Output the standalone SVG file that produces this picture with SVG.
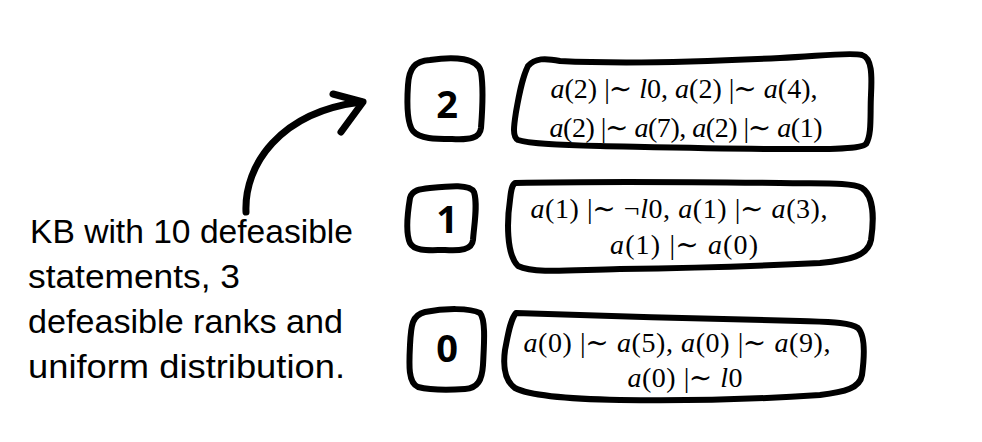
<svg xmlns="http://www.w3.org/2000/svg" width="982" height="442" viewBox="0 0 982 442">
<style>
.box{fill:none;stroke:#000;stroke-width:6;stroke-linejoin:round;stroke-linecap:round}
.num{font-family:"Open Sans","Liberation Sans",sans-serif;font-weight:700;font-size:38px;text-anchor:middle;fill:#000}
.math{font-family:"Liberation Serif","DejaVu Serif",serif;font-size:28px;text-anchor:middle;fill:#000}
.i{font-style:italic}
.note{font-family:"Liberation Sans","DejaVu Sans",sans-serif;font-size:33px;fill:#000}
.arrow{fill:none;stroke:#000;stroke-width:7;stroke-linecap:round;stroke-linejoin:round}
</style>
<rect width="982" height="442" fill="#fff"/>
<g id="rank2">
<path class="box" d="M 430 60 C 455 56, 478 58, 481 72 C 484 90, 482 115, 481 128 C 480 138, 470 140, 452 139 C 435 139, 420 139, 413 131 C 406 122, 407 100, 408 85 C 409 68, 415 61, 430 60 Z"/>
<text class="num" x="447" y="118">2</text>
</g>
<g id="stmts2">
<path class="box" d="M 528 66 C 535 58, 545 58, 560 61 C 620 64, 700 62, 780 58 C 820 56, 850 52, 862 55 C 872 58, 872 75, 871 95 C 870 115, 872 135, 866 144 C 860 150, 820 149, 790 149 C 720 149, 650 147, 600 146 C 560 145, 530 144, 518 140 C 512 137, 514 125, 516 112 C 519 95, 522 78, 528 66 Z"/>
<text class="math" x="684" y="98" textLength="267"><tspan class="i">a</tspan>(2) |<tspan dx="-1">∼</tspan> <tspan class="i">l</tspan>0, <tspan class="i">a</tspan>(2) |<tspan dx="-1">∼</tspan> <tspan class="i">a</tspan>(4),</text>
<text class="math" x="686" y="137" textLength="273"><tspan class="i">a</tspan>(2) |<tspan dx="-1">∼</tspan> <tspan class="i">a</tspan>(7), <tspan class="i">a</tspan>(2) |<tspan dx="-1">∼</tspan> <tspan class="i">a</tspan>(1)</text>
</g>
<g id="rank1">
<path class="box" d="M 430 188 C 450 186, 470 184, 474 192 C 478 205, 474 225, 473 240 C 472 250, 460 251, 445 250 C 430 250, 415 252, 410 243 C 405 232, 408 210, 410 198 C 412 190, 420 189, 430 188 Z"/>
<text class="num" x="447" y="233">1</text>
</g>
<g id="stmts1">
<path class="box" d="M 515 183 C 600 181, 700 182, 780 183 C 820 184, 850 182, 862 188 C 874 196, 874 220, 871 240 C 868 256, 850 260, 820 263 C 760 266, 690 268, 620 269 C 570 270, 535 274, 518 266 C 506 254, 507 220, 510 200 C 511 190, 512 185, 515 183 Z"/>
<text class="math" x="679" y="218" textLength="297"><tspan class="i">a</tspan>(1) |<tspan dx="-1">∼</tspan> ¬<tspan class="i">l</tspan>0, <tspan class="i">a</tspan>(1) |<tspan dx="-1">∼</tspan> <tspan class="i">a</tspan>(3),</text>
<text class="math" x="684" y="254" textLength="148"><tspan class="i">a</tspan>(1) |<tspan dx="-1">∼</tspan> <tspan class="i">a</tspan>(0)</text>
</g>
<g id="rank0">
<path class="box" d="M 425 312 C 445 308, 470 308, 480 313 C 486 320, 484 345, 483 365 C 482 380, 478 388, 465 389 C 450 390, 430 390, 418 387 C 408 383, 409 365, 410 345 C 411 325, 412 315, 425 312 Z"/>
<text class="num" x="447" y="362">0</text>
</g>
<g id="stmts0">
<path class="box" d="M 516 313 C 600 316, 720 319, 800 321 C 830 322, 850 322, 858 328 C 866 336, 864 360, 862 375 C 860 388, 845 392, 820 395 C 760 399, 680 401, 620 400 C 570 399, 530 396, 515 388 C 504 380, 503 365, 505 350 C 508 335, 510 320, 516 313 Z"/>
<text class="math" x="677" y="352" textLength="307"><tspan class="i">a</tspan>(0) |<tspan dx="-1">∼</tspan> <tspan class="i">a</tspan>(5), <tspan class="i">a</tspan>(0) |<tspan dx="-1">∼</tspan> <tspan class="i">a</tspan>(9),</text>
<text class="math" x="685" y="387" textLength="115"><tspan class="i">a</tspan>(0) |<tspan dx="-1">∼</tspan> <tspan class="i">l</tspan>0</text>
</g>
<g id="note">
<text class="note" x="30" y="243" textLength="323" lengthAdjust="spacingAndGlyphs">KB with 10 defeasible</text>
<text class="note" x="28" y="288" textLength="212" lengthAdjust="spacingAndGlyphs">statements, 3</text>
<text class="note" x="28" y="333" textLength="315" lengthAdjust="spacingAndGlyphs">defeasible ranks and</text>
<text class="note" x="28" y="378" textLength="317" lengthAdjust="spacingAndGlyphs">uniform distribution.</text>
</g>
<g id="connectors">
<path class="arrow" d="M 246 212 C 244 165, 280 112, 361 102"/>
<path class="arrow" d="M 333 94 L 363 102 L 341 132"/>
</g>
</svg>
